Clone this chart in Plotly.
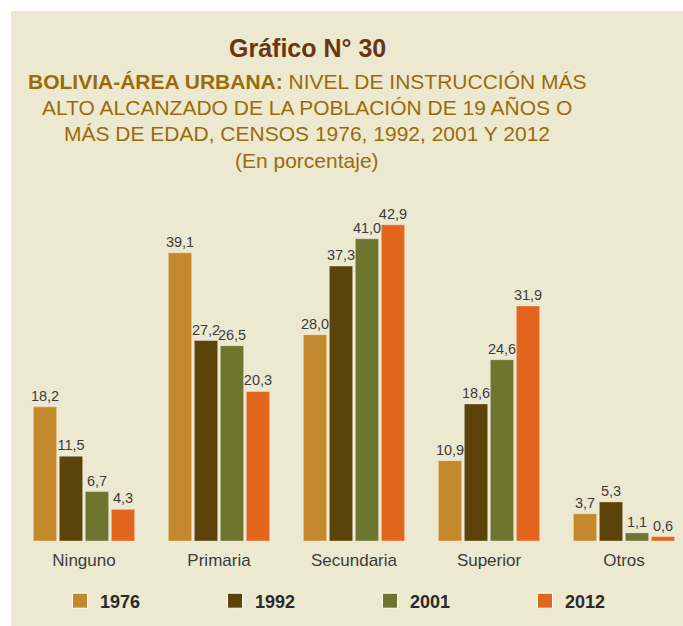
import plotly.graph_objects as go

categories = ["Ninguno", "Primaria", "Secundaria", "Superior", "Otros"]
years = ["1976", "1992", "2001", "2012"]
v1976 = [18.2, 39.1, 28.0, 10.9, 3.7]
v1992 = [11.5, 27.2, 37.3, 18.6, 5.3]
v2001 = [6.7, 26.5, 41.0, 24.6, 1.1]
v2012 = [4.3, 20.3, 42.9, 31.9, 0.6]
series = [v1976, v1992, v2001, v2012]
colors = ["#C4892C", "#5B4309", "#6D752E", "#E3661F"]

W, H = 683, 626
ML, MR, MT, MB = 10, 0, 200, 85
PW, PH = W - ML - MR, H - MT - MB
BG = "#EDE9D1"
NARROW = "Liberation Sans Narrow, Arial Narrow, Liberation Sans, Arial, sans-serif"
SANS = "Liberation Sans, Arial, sans-serif"


def px_x(px):
    return (px - ML) / PW


def px_y(py):
    return (H - MB - py) / PH


fig = go.Figure()
for name, vals, col in zip(years, series, colors):
    fig.add_trace(go.Bar(
        name=name, x=categories, y=vals, showlegend=False,
        marker=dict(color=col, line=dict(color="rgba(255,255,255,0.35)", width=1)),
        texttemplate="%{y:.1f}", textposition="outside", cliponaxis=False,
        constraintext="none",
        textfont=dict(family=NARROW, size=14.5, color="#3C3C3C"),
    ))
# legend entries (square swatches like the original)
for name, col in zip(years, colors):
    fig.add_trace(go.Scatter(
        name=name, x=[None], y=[None], mode="markers",
        marker=dict(symbol="square", size=15, color=col, line=dict(color="white", width=1)),
    ))

# white outer strips (top and left) around the beige panel
fig.add_shape(type="rect", xref="paper", yref="paper",
              x0=px_x(-5), x1=px_x(W + 5), y0=px_y(11), y1=px_y(-5),
              fillcolor="white", line=dict(width=0), layer="below")
fig.add_shape(type="rect", xref="paper", yref="paper",
              x0=px_x(-5), x1=px_x(11), y0=px_y(H + 5), y1=px_y(-5),
              fillcolor="white", line=dict(width=0), layer="below")

title_lines = [
    ("<b>Gráfico N° 30</b>", 48, 25, "#6B3510"),
    ("<b>BOLIVIA-ÁREA URBANA:</b> NIVEL DE INSTRUCCIÓN MÁS", 81, 21, "#9A6C08"),
    ("ALTO ALCANZADO DE LA POBLACIÓN DE 19 AÑOS O", 107, 21, "#9A6C08"),
    ("MÁS DE EDAD, CENSOS 1976, 1992, 2001 Y 2012", 133, 21, "#9A6C08"),
    ("(En porcentaje)", 160, 21, "#9A6C08"),
]
for txt, yc, sz, col in title_lines:
    fig.add_annotation(text=txt, xref="paper", yref="paper", x=px_x(307), y=px_y(yc),
                       xanchor="center", yanchor="middle", showarrow=False,
                       font=dict(family=SANS, size=sz, color=col))

fig.update_layout(
    width=W, height=H,
    margin=dict(l=ML, r=MR, t=MT, b=MB),
    paper_bgcolor=BG, plot_bgcolor="rgba(0,0,0,0)",
    separators=",.",
    barmode="group", bargap=0.23, bargroupgap=0.1,
    showlegend=True,
    legend=dict(orientation="h", x=px_x(60), y=px_y(601), xanchor="left", yanchor="middle",
                entrywidth=110, entrywidthmode="pixels",
                font=dict(family=NARROW, size=18, color="#2A2A2A", weight="bold"),
                bgcolor="rgba(0,0,0,0)"),
    xaxis=dict(range=[-0.548, 4.437], showgrid=False, zeroline=False, showline=False,
               ticks="", ticklabelstandoff=7,
               tickfont=dict(family=NARROW, size=17, color="#3C3C3C")),
    yaxis=dict(range=[0, PH / 7.37], visible=False),
)

page_js = (
    "document.body.style.margin='0';"
    "document.body.style.overflow='hidden';"
    "document.documentElement.style.overflow='hidden';"
    "document.body.style.background='%s';"
    "document.documentElement.style.background='%s';" % (BG, BG)
)
fig.write_html("out.html", config={"displayModeBar": False}, post_script=page_js)
